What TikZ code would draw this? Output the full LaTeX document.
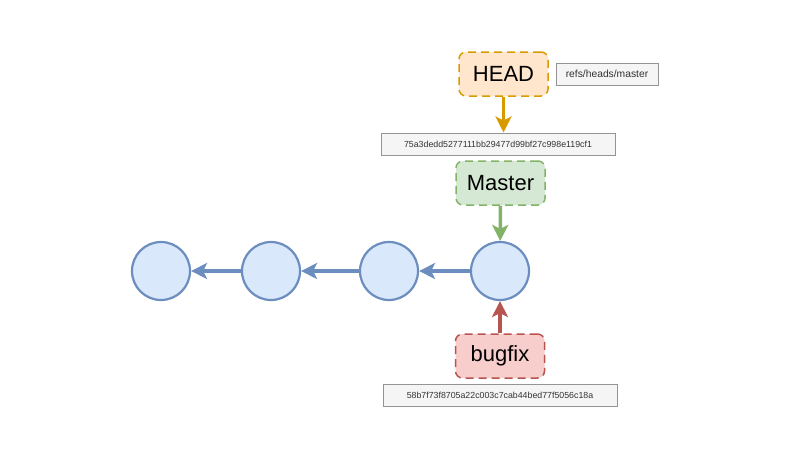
\documentclass[tikz,border=0pt]{standalone}
\usepackage{fontspec}
\setmainfont{Liberation Sans}
\usepackage{tikz}
\usetikzlibrary{positioning, arrows.meta}

\definecolor{commitfill}{HTML}{DAE8FC}
\definecolor{commitdraw}{HTML}{6C8EBF}
\definecolor{headfill}{HTML}{FFE6CC}
\definecolor{headdraw}{HTML}{D79B00}
\definecolor{masterfill}{HTML}{D5E8D4}
\definecolor{masterdraw}{HTML}{82B366}
\definecolor{bugfill}{HTML}{F8CECC}
\definecolor{bugdraw}{HTML}{B85450}
\definecolor{hashfill}{HTML}{F5F5F5}
\definecolor{hashdraw}{HTML}{666666}

\begin{document}
\begin{tikzpicture}[x=1pt, y=-1pt,
  commit/.style={circle, draw=commitdraw, fill=commitfill, line width=2.2pt, minimum size=58pt, inner sep=0pt},
  ref/.style={rounded corners=7pt, dash pattern=on 8pt off 5pt, line width=1.5pt, minimum width=89pt, minimum height=44pt, inner sep=0pt, font=\fontsize{22}{26}\selectfont},
  hash/.style={draw=hashdraw!70, fill=hashfill, line width=1pt, minimum width=234pt, minimum height=22pt, inner sep=0pt, font=\fontsize{8.8}{10}\selectfont, text=black!80},
  link/.style={-{Stealth[length=16pt, width=16pt, inset=4pt]}, line width=3.5pt}]
\useasboundingbox (0,0) rectangle (800,450);
% commits
\node[commit] (c1) at (161,271) {};
\node[commit] (c2) at (271,271) {};
\node[commit] (c3) at (389,271) {};
\node[commit] (c4) at (500,271) {};
\draw[link, commitdraw] (c2) -- (c1);
\draw[link, commitdraw] (c3) -- (c2);
\draw[link, commitdraw, line width=4.5pt] (c4) -- (c3);
% HEAD
\node[ref, draw=headdraw, fill=headfill] (head) at (503.5,74) {HEAD};
\node[draw=hashdraw!70, fill=hashfill, line width=1pt, minimum width=102pt, minimum height=22pt, inner sep=0pt, font=\fontsize{10.3}{12}\selectfont, text=black!80] (headref) at (607,74) {refs/heads/master};
\node[hash] (hashmaster) at (498,144) {75a3dedd5277111bb29477d99bf27c998e119cf1};
\draw[link, headdraw] (head) -- (hashmaster.north -| head);
% Master
\node[ref, draw=masterdraw, fill=masterfill] (master) at (500.5,183) {Master};
\draw[link, masterdraw] (master) -- (c4);
% bugfix
\node[ref, draw=bugdraw, fill=bugfill] (bugfix) at (500,356) {bugfix};
\node[hash] (hashbugfix) at (500,395) {58b7f73f8705a22c003c7cab44bed77f5056c18a};
\draw[link, bugdraw] (bugfix) -- (c4);
\end{tikzpicture}
\end{document}
